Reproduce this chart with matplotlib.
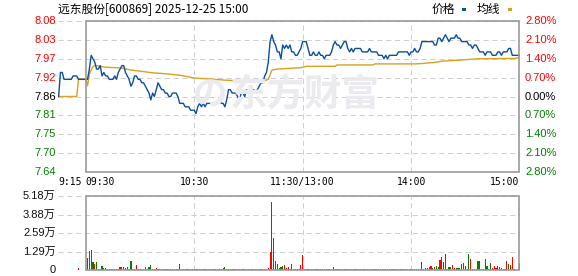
import matplotlib
matplotlib.use('Agg')
import matplotlib.pyplot as plt
from matplotlib.patches import Rectangle
import numpy as np

# ---------------------------------------------------------------------------
# Data (minutes after 09:30; 120 = 11:30/13:00, 240 = 15:00, negatives = auction)
# ---------------------------------------------------------------------------
TITLE = '远东股份[600869] 2025-12-25 15:00'
PRICE_LOW, PRICE_HIGH = 7.64, 8.08
PRICE_LABELS = ['7.64', '7.70', '7.75', '7.81', '7.86', '7.92', '7.97', '8.03', '8.08']
PCT_LABELS = ['2.80%', '2.10%', '1.40%', '0.70%', '0.00%', '0.70%', '1.40%', '2.10%', '2.80%']
VOL_MAX = 51800
VOL_LABELS = ['0', '1.29万', '2.59万', '3.88万', '5.18万']
TIME_TICKS = [-15, 0, 60, 120, 180, 240]
TIME_LABELS = ['9:15', '09:30', '10:30', '11:30/13:00', '14:00', '15:00']

price_min = [-15, -14, -13, -12, -8, -7, -5, -4, 0, 1, 2, 3, 4, 5, 6, 7, 8, 9, 10, 11, 12, 13,
             15, 16, 17, 18, 19, 20, 21, 22, 23, 24, 25, 26, 27, 28, 29, 30, 31, 32, 33, 34,
             35, 36, 37, 38, 39, 40, 41, 42, 43, 44, 45, 46, 47, 48, 49, 50, 51, 52, 53, 54,
             55, 56, 57, 58, 59, 60, 61, 62, 63, 64, 65, 66, 67, 69, 71, 73, 74, 75, 76, 77,
             78, 79, 80, 81, 83, 84, 85, 86, 87, 88, 89, 90, 91, 93, 94, 95, 96, 97, 98, 99,
             100, 101, 102, 103, 104, 105, 106, 107, 108, 109, 110, 111, 112, 113, 114, 115,
             116, 117, 118, 119, 120, 121, 122, 123, 124, 125, 126, 127, 128, 129, 130, 131,
             132, 133, 134, 135, 136, 137, 138, 139, 140, 141, 142, 143, 144, 145, 146, 147,
             148, 149, 152, 153, 155, 156, 157, 158, 159, 160, 161, 162, 164, 165, 166, 167,
             168, 170, 171, 172, 173, 176, 178, 179, 180, 181, 182, 183, 184, 185, 186, 192,
             193, 194, 195, 196, 197, 198, 199, 200, 201, 202, 203, 204, 205, 206, 207, 208,
             211, 212, 213, 214, 215, 216, 217, 218, 220, 221, 222, 223, 224, 225, 227, 228,
             229, 230, 231, 232, 233, 234, 235, 236, 240]
price = [7.86, 7.93, 7.93, 7.91, 7.91, 7.92, 7.92, 7.91, 7.91, 7.91, 7.94, 7.98, 7.97, 7.96,
         7.94, 7.94, 7.95, 7.92, 7.93, 7.92, 7.92, 7.91,
         7.91, 7.92, 7.91, 7.93, 7.94, 7.95, 7.95, 7.93, 7.92, 7.91, 7.89, 7.90, 7.92, 7.92,
         7.91, 7.91, 7.90, 7.90, 7.89, 7.88,
         7.87, 7.85, 7.87, 7.86, 7.88, 7.90, 7.89, 7.88, 7.88, 7.87, 7.87, 7.86, 7.86, 7.87,
         7.87, 7.87, 7.86, 7.84, 7.84, 7.84,
         7.83, 7.83, 7.83, 7.82, 7.82, 7.82, 7.81, 7.83, 7.84, 7.83, 7.84, 7.83, 7.84, 7.84,
         7.84, 7.84, 7.85, 7.84, 7.84, 7.83,
         7.85, 7.88, 7.88, 7.87, 7.87, 7.86, 7.85, 7.87, 7.87, 7.86, 7.88, 7.87, 7.88, 7.88,
         7.87, 7.88, 7.89, 7.90, 7.90, 7.92,
         7.93, 7.96, 8.02, 8.04, 8.02, 8.01, 7.99, 7.99, 7.97, 8.01, 8.00, 8.01, 8.00, 8.01,
         7.99, 7.99,
         7.98, 7.98, 7.99, 8.00, 8.02, 8.02, 8.02, 8.00, 7.98, 7.98, 7.99, 7.98, 7.98, 7.99,
         7.98, 7.98,
         7.97, 7.98, 7.98, 7.98, 7.99, 8.01, 8.02, 8.01, 8.01, 8.00, 8.01, 8.02, 8.02, 8.00,
         7.99, 8.00,
         7.99, 8.00, 8.00, 7.99, 7.99, 7.99, 8.00, 7.99, 7.99, 7.99, 7.99, 7.98, 7.98, 7.97,
         7.98, 7.97,
         7.98, 7.98, 7.98, 7.98, 7.99, 7.99, 7.99, 7.98, 7.99, 7.99, 8.00, 7.99, 7.99, 8.00,
         8.02, 8.02,
         8.01, 8.01, 8.03, 8.03, 8.02, 8.03, 8.04, 8.03, 8.02, 8.03, 8.03, 8.03, 8.04, 8.03,
         8.03, 8.02,
         8.02, 8.01, 8.01, 8.00, 8.01, 8.01, 8.00, 7.99, 7.99, 7.98, 7.99, 7.99, 7.99, 7.98,
         7.98, 7.99,
         7.99, 7.98, 7.99, 7.99, 7.99, 8.00, 8.00, 7.98, 7.98]

avg_min = [-15, -5, -4, 0, 1, 2, 3, 4, 5, 6, 9, 12, 17, 21, 24, 30, 37, 45, 52, 60, 63, 69,
           76, 86, 95, 98, 100, 101, 102, 103, 106, 113, 119, 122, 138, 139, 159, 160, 182,
           186, 194, 197, 207, 217, 238, 240]
avg_price = [7.860, 7.860, 7.911, 7.911, 7.891, 7.925, 7.937, 7.947, 7.950, 7.950, 7.947,
             7.945, 7.944, 7.942, 7.938, 7.934, 7.929, 7.926, 7.922, 7.914, 7.913, 7.911,
             7.908, 7.905, 7.903, 7.905, 7.908, 7.910, 7.923, 7.937, 7.940, 7.942, 7.944,
             7.948, 7.948, 7.952, 7.952, 7.955, 7.955, 7.956, 7.960, 7.963, 7.966, 7.970,
             7.971, 7.974]

# call-auction volume at 09:25
auction_min = [-4]
auction_vol = [1600]

# one value per minute, 0 .. 240
vol = [0, 8600, 13500, 14000, 5800, 4000, 5800, 900, 900, 3000,          # 0-9
       1600, 1600, 700, 700, 700, 700, 700, 700, 700, 2300,               # 10-19
       1900, 2300, 1500, 1900, 700, 6500, 700, 700, 3500, 700,            # 20-29
       700, 700, 700, 2300, 700, 1900, 3500, 700, 700, 1600,              # 30-39
       700, 700, 700, 700, 700, 700, 700, 700, 700, 700,                  # 40-49
       700, 700, 4200, 700, 700, 700, 700, 700, 700, 700,                 # 50-59
       700, 700, 700, 700, 700, 700, 700, 700, 700, 700,                  # 60-69
       700, 700, 700, 700, 700, 700, 1600, 2300, 700, 700,                # 70-79
       700, 700, 700, 700, 700, 700, 700, 700, 700, 700,                  # 80-89
       700, 700, 700, 700, 700, 700, 700, 700, 700, 700,                  # 90-99
       1000, 1600, 12600, 47600, 22400, 6300, 4200, 1600, 2300, 2800,     # 100-109
       3500, 1600, 2300, 700, 4200, 700, 700, 700, 700, 3500,             # 110-119
       10500, 700, 700, 700, 700, 700, 700, 700, 700, 700,                # 120-129
       700, 700, 700, 700, 700, 700, 700, 2100, 700, 700,                 # 130-139
       700, 700, 700, 700, 700, 700, 700, 700, 700, 700,                  # 140-149
       700, 700, 700, 700, 700, 700, 700, 700, 700, 700,                  # 150-159
       700, 700, 700, 700, 700, 700, 700, 700, 700, 700,                  # 160-169
       700, 700, 700, 700, 700, 700, 700, 700, 700, 700,                  # 170-179
       700, 700, 700, 700, 700, 700, 5800, 1000, 1600, 1600,              # 180-189
       2300, 3000, 1600, 2300, 3000, 2300, 7000, 9300, 5800, 11200,       # 190-199
       1000, 2300, 2300, 3500, 1600, 1600, 1600, 1600, 4000, 4700,        # 200-209
       3000, 1000, 11200, 7700, 1000, 1000, 1000, 6300, 6300, 1000,       # 210-219
       1000, 7700, 2800, 1000, 4700, 1600, 3000, 1600, 2800, 2300,        # 220-229
       1600, 1000, 1000, 6300, 4000, 3500, 9300, 700, 0, 0,               # 230-239
       4700]                                                              # 240
# r = up minute, g = down minute
vol_dir = ('grrrgrgrrg' 'rrggrrgrrr' 'grggggrrrg' 'rrrgrggrrr' 'rgrggrggrr'
           'rrgrrggrgg' 'rgrrgrrrgr' 'rrgrrrrgrr' 'grrgrgrgrr' 'grrgrrrrrr'
           'rrrrgrgrgg' 'rrrggrgrgr' 'rrgrrrgrrr' 'rrrrrrrrrg' 'rrgrrrgrrr'
           'rgrrrrgrrr' 'rrgrrrrrgr' 'rrgrrrrgrr' 'rrrrgrrrrr' 'rrgrggrrgr'
           'rggrrggrrr' 'gggrrrggrr' 'rrgggrrrgr' 'rrrrgrrrrr' 'r')

RED, GREEN = '#FF0000', '#008000'
BLUE, GOLD = '#0A4FA0', '#D9A21E'
FRAME, GRID = '#9A9A9A', '#CFCFCF'
MARK = '#EAEAEF'

plt.rcParams['font.family'] = ['Liberation Sans', 'Noto Sans CJK SC']

W, H = 578, 276
fig = plt.figure(figsize=(W / 100, H / 100), dpi=100)
fig.patch.set_facecolor('white')


def px_axes(left, top, right, bottom):
    return fig.add_axes([left / W, 1 - bottom / H, (right - left) / W, (bottom - top) / H])


# watermark first so it stays under the lines
fig.text(0.527, 1 - 95 / H, '东方财富', ha='center', va='center', fontsize=27,
         fontweight='bold', color=MARK, family='Noto Sans CJK SC')
fig.text(210 / W, 1 - 95 / H, 'の', ha='center', va='center', fontsize=25,
         fontweight='bold', style='italic', color=MARK, family='Noto Sans CJK SC')

XMIN, XMAX = -15.35, 240
ax = px_axes(58, 21, 519.5, 172)
axv = px_axes(58, 196, 519.5, 270)

dash = (0, (5, 3.5))
for a, lo, hi in ((ax, PRICE_LOW, PRICE_HIGH), (axv, 0, VOL_MAX)):
    a.set_xlim(XMIN, XMAX)
    a.set_ylim(lo, hi)
    a.axis('off')
    a.add_patch(Rectangle((0, lo), 240, hi - lo, fill=False, ec=FRAME, lw=1.2,
                          clip_on=False, zorder=5))
    a.vlines([60, 120, 180], lo, hi, colors=GRID, linestyles=dash, lw=0.75, zorder=1)

# price panel
levels = np.linspace(PRICE_LOW, PRICE_HIGH, len(PRICE_LABELS))
ax.hlines(levels, XMIN, 240, colors=GRID, linestyles=dash, lw=0.75, zorder=1)
mid = len(levels) // 2
for i, (y, lab, pct) in enumerate(zip(levels, PRICE_LABELS, PCT_LABELS)):
    col = RED if i > mid else (GREEN if i < mid else 'black')
    ax.text(-0.005, y, lab, transform=ax.get_yaxis_transform(), ha='right', va='center',
            fontsize=8, color=col)
    ax.text(1.012, y, pct, transform=ax.get_yaxis_transform(), ha='left', va='center',
            fontsize=8, color=col)

ax.plot(avg_min, avg_price, color=GOLD, lw=1.0, zorder=3)
ax.plot(price_min, price, color=BLUE, lw=1.0, zorder=4)

for t, lab in zip(TIME_TICKS, TIME_LABELS):
    ha = 'left' if t <= 0 else ('right' if t == 240 else 'center')
    ax.text(XMIN if t < 0 else t, -0.068, lab, transform=ax.get_xaxis_transform(),
            ha=ha, va='center', fontsize=7, family='DejaVu Sans Mono')

# volume panel
vlevels = np.linspace(0, VOL_MAX, len(VOL_LABELS))
axv.hlines(vlevels, XMIN, 240, colors=GRID, linestyles=dash, lw=0.75, zorder=1)
for y, lab in zip(vlevels, VOL_LABELS):
    axv.text(-0.005, y, lab, transform=axv.get_yaxis_transform(), ha='right', va='center',
             fontsize=8, color='#111111')

minutes = np.arange(len(vol))
colors = [RED if c == 'r' else GREEN for c in vol_dir]
axv.bar(minutes, vol, width=0.65, color=colors, linewidth=0, zorder=3)
axv.bar(auction_min, auction_vol, width=0.65, color=RED, linewidth=0, zorder=3)

# title and legend
fig.text(58 / W, 1 - 9 / H, TITLE, ha='left', va='center', fontsize=8.5,
         family='Noto Sans CJK SC')
fig.text(432 / W, 1 - 9 / H, '价格', ha='left', va='center', fontsize=8.5,
         family='Noto Sans CJK SC')
fig.text(477 / W, 1 - 9 / H, '均线', ha='left', va='center', fontsize=8.5,
         family='Noto Sans CJK SC')
for x0, col in ((462, BLUE), (508, GOLD)):
    fig.patches.append(Rectangle((x0 / W, 1 - 10.5 / H), 4 / W, 2.5 / H,
                                 transform=fig.transFigure, color=col, lw=0))

fig.savefig('out.png', dpi=100)
